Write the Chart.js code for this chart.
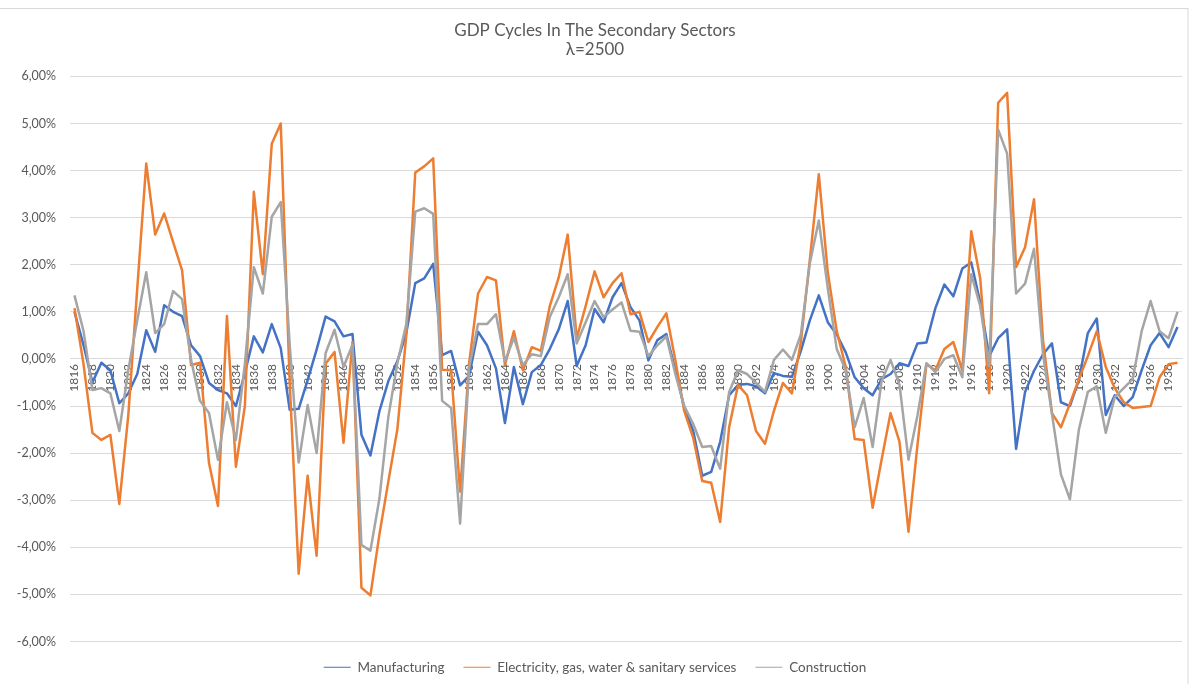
<!DOCTYPE html>
<html>
<head>
<meta charset="utf-8">
<title>GDP Cycles In The Secondary Sectors</title>
<script src="https://cdn.jsdelivr.net/npm/chart.js@4.4.1/dist/chart.umd.min.js"></script>
<style>
  html, body { margin: 0; padding: 0; background: #ffffff; }
  #grafica-box { width: 1195px; height: 684px; position: relative; }
</style>
</head>
<body>
<div id="grafica-box"><canvas id="grafica"></canvas></div>
<script>
//DATOS
const anios = [
  1816, 1817, 1818, 1819, 1820, 1821, 1822, 1823, 1824, 1825, 1826, 1827, 1828, 1829, 1830,
  1831, 1832, 1833, 1834, 1835, 1836, 1837, 1838, 1839, 1840, 1841, 1842, 1843, 1844, 1845,
  1846, 1847, 1848, 1849, 1850, 1851, 1852, 1853, 1854, 1855, 1856, 1857, 1858, 1859, 1860,
  1861, 1862, 1863, 1864, 1865, 1866, 1867, 1868, 1869, 1870, 1871, 1872, 1873, 1874, 1875,
  1876, 1877, 1878, 1879, 1880, 1881, 1882, 1883, 1884, 1885, 1886, 1887, 1888, 1889, 1890,
  1891, 1892, 1893, 1894, 1895, 1896, 1897, 1898, 1899, 1900, 1901, 1902, 1903, 1904, 1905,
  1906, 1907, 1908, 1909, 1910, 1911, 1912, 1913, 1914, 1915, 1916, 1917, 1918, 1919, 1920,
  1921, 1922, 1923, 1924, 1925, 1926, 1927, 1928, 1929, 1930, 1931, 1932, 1933, 1934, 1935,
  1936, 1937, 1938, 1939
];
// valores en %
const manufacturing = [
  1.00, 0.30, -0.50, -0.08, -0.24, -0.94, -0.73, -0.32, 0.61, 0.15, 1.14, 1.00, 0.91, 0.29, 0.06,
  -0.51, -0.66, -0.73, -1.00, -0.30, 0.48, 0.14, 0.74, 0.23, -1.08, -1.06, -0.45, 0.20, 0.90, 0.80,
  0.48, 0.53, -1.61, -2.05, -1.11, -0.47, -0.05, 0.55, 1.61, 1.71, 2.02, 0.08, 0.17, -0.56, -0.36,
  0.58, 0.29, -0.20, -1.36, -0.17, -0.96, -0.28, -0.13, 0.21, 0.63, 1.23, -0.15, 0.29, 1.06, 0.78,
  1.31, 1.61, 1.10, 0.82, -0.03, 0.40, 0.53, -0.24, -1.04, -1.53, -2.48, -2.40, -1.76, -0.77, -0.55,
  -0.53, -0.58, -0.73, -0.30, -0.36, -0.38, 0.17, 0.82, 1.35, 0.78, 0.52, 0.14, -0.39, -0.62, -0.77,
  -0.43, -0.32, -0.09, -0.15, 0.33, 0.35, 1.08, 1.58, 1.33, 1.92, 2.05, 1.20, 0.06, 0.44, 0.63,
  -1.91, -0.70, -0.25, 0.10, 0.33, -0.92, -1.00, -0.45, 0.55, 0.86, -1.19, -0.77, -1.00, -0.81, -0.24,
  0.29, 0.55, 0.25, 0.68
];
const electricity = [
  1.08, -0.10, -1.57, -1.72, -1.61, -3.08, -1.20, 1.50, 4.15, 2.64, 3.09, 2.48, 1.88, -0.13, -0.08,
  -2.21, -3.12, 0.91, -2.29, -1.00, 3.55, 1.80, 4.57, 5.00, -0.50, -4.56, -2.48, -4.18, -0.10, 0.15,
  -1.78, 0.36, -4.86, -5.02, -3.73, -2.60, -1.50, 0.50, 3.96, 4.09, 4.26, -0.23, -0.24, -2.82, -0.10,
  1.39, 1.74, 1.67, -0.13, 0.59, -0.24, 0.25, 0.17, 1.12, 1.73, 2.64, 0.44, 1.12, 1.86, 1.31,
  1.61, 1.82, 0.95, 1.00, 0.36, 0.68, 0.97, -0.02, -1.11, -1.68, -2.59, -2.63, -3.46, -1.45, -0.55,
  -0.77, -1.53, -1.80, -1.10, -0.51, -0.73, 0.36, 2.11, 3.92, 1.84, 0.59, -0.17, -1.70, -1.72, -3.16,
  -2.14, -1.15, -1.76, -3.67, -1.83, -0.11, -0.24, 0.21, 0.36, -0.24, 2.71, 1.71, -0.73, 5.44, 5.65,
  1.95, 2.37, 3.39, 0.40, -1.15, -1.45, -0.95, -0.43, 0.06, 0.59, -0.17, -0.62, -0.92, -1.04, -1.02,
  -1.00, -0.39, -0.11, -0.08
];
const construction = [
  1.35, 0.60, -0.66, -0.62, -0.73, -1.53, -0.24, 0.82, 1.84, 0.55, 0.74, 1.44, 1.27, -0.02, -0.89,
  -1.15, -2.14, -0.92, -1.72, -0.10, 1.95, 1.39, 3.02, 3.33, 0.30, -2.20, -0.98, -2.00, 0.12, 0.62,
  -0.17, 0.30, -3.95, -4.07, -2.97, -1.23, -0.09, 0.74, 3.13, 3.20, 3.08, -0.89, -1.04, -3.50, -0.20,
  0.74, 0.74, 0.95, -0.05, 0.45, -0.13, 0.10, 0.06, 0.89, 1.31, 1.80, 0.33, 0.78, 1.23, 0.89,
  1.05, 1.20, 0.60, 0.58, 0.06, 0.29, 0.48, -0.32, -1.00, -1.38, -1.87, -1.85, -2.33, -0.70, -0.24,
  -0.32, -0.51, -0.70, -0.02, 0.20, -0.02, 0.52, 2.03, 2.94, 1.50, 0.21, -0.24, -1.45, -0.83, -1.87,
  -0.47, -0.02, -0.55, -2.14, -1.20, -0.09, -0.28, 0.00, 0.08, -0.39, 1.80, 1.12, -0.15, 4.87, 4.36,
  1.39, 1.60, 2.34, 0.10, -1.17, -2.45, -2.98, -1.50, -0.70, -0.58, -1.57, -0.81, -0.62, -0.43, 0.59,
  1.23, 0.59, 0.44, 1.00
];
const ticksY = [-6, -5, -4, -3, -2, -1, 0, 1, 2, 3, 4, 5, 6];
const titulo = ['GDP Cycles In The Secondary Sectors', 'λ=2500'];
//DATOS

//ESTILO
const gris = '#595959';
const grilla = '#d9d9d9';
const fuente = 'Lato, "Open Sans", sans-serif';

function formatoPct(v) { // 6 -> "6,00%"
  return v.toFixed(2).replace('.', ',') + '%';
}

const marco = { // borde claro del grafico original
  id: 'marco',
  afterDraw(chart) {
    const ctx = chart.ctx;
    ctx.save();
    ctx.strokeStyle = grilla;
    ctx.lineWidth = 1;
    ctx.strokeRect(-2, 8.5, 1190, 700);
    ctx.restore();
  }
};
//ESTILO

//GRAFICO
const data = {
  labels: anios,
  datasets: [
    { label: 'Manufacturing', data: manufacturing, borderColor: '#4472C4', backgroundColor: '#4472C4', order: 2 },
    { label: 'Electricity, gas, water & sanitary services', data: electricity, borderColor: '#ED7D31', backgroundColor: '#ED7D31', order: 1 },
    { label: 'Construction', data: construction, borderColor: '#A5A5A5', backgroundColor: '#A5A5A5', order: 0 }
  ]
};

const config = {
  type: 'line',
  data: data,
  plugins: [marco],
  options: {
    responsive: true,
    maintainAspectRatio: false,
    animation: false,
    devicePixelRatio: 1,
    layout: { padding: { left: 8, right: 13, top: 0, bottom: 0 } },
    elements: {
      line: { borderWidth: 2.5, tension: 0, borderJoinStyle: 'round' },
      point: { radius: 0, hoverRadius: 0 }
    },
    plugins: {
      title: {
        display: true,
        text: titulo,
        color: gris,
        font: { family: fuente, size: 17, weight: 'normal', lineHeight: 1.1 },
        padding: { top: 21, bottom: 18 }
      },
      legend: {
        position: 'bottom',
        maxHeight: 43,
        labels: {
          color: gris,
          font: { family: fuente, size: 13.5 },
          usePointStyle: true,
          pointStyle: 'line',
          pointStyleWidth: 27,
          padding: 19,
          sort: (a, b) => a.datasetIndex - b.datasetIndex
        }
      },
      tooltip: { enabled: false }
    },
    scales: {
      x: {
        type: 'category',
        position: { y: 0 },
        offset: true,
        grid: { display: false, drawTicks: false },
        border: { display: true, color: grilla, width: 1 },
        ticks: {
          autoSkip: false,
          minRotation: 90,
          maxRotation: 90,
          padding: 5,
          color: gris,
          font: { family: fuente, size: 12 },
          callback: function (value, index) {
            return index % 2 === 0 ? String(anios[index]) : null;
          }
        }
      },
      y: {
        min: ticksY[0],
        max: ticksY[ticksY.length - 1],
        afterBuildTicks: (scale) => { scale.ticks = ticksY.map(v => ({ value: v })); },
        grid: { color: grilla, drawTicks: false },
        border: { display: false },
        ticks: {
          padding: 14,
          color: gris,
          font: { family: fuente, size: 12.5 },
          callback: (v) => formatoPct(v)
        },
        afterFit: (scale) => { scale.width = 62; }
      }
    }
  }
};

const chart = new Chart(document.getElementById('grafica'), config);
//GRAFICO
</script>
</body>
</html>
